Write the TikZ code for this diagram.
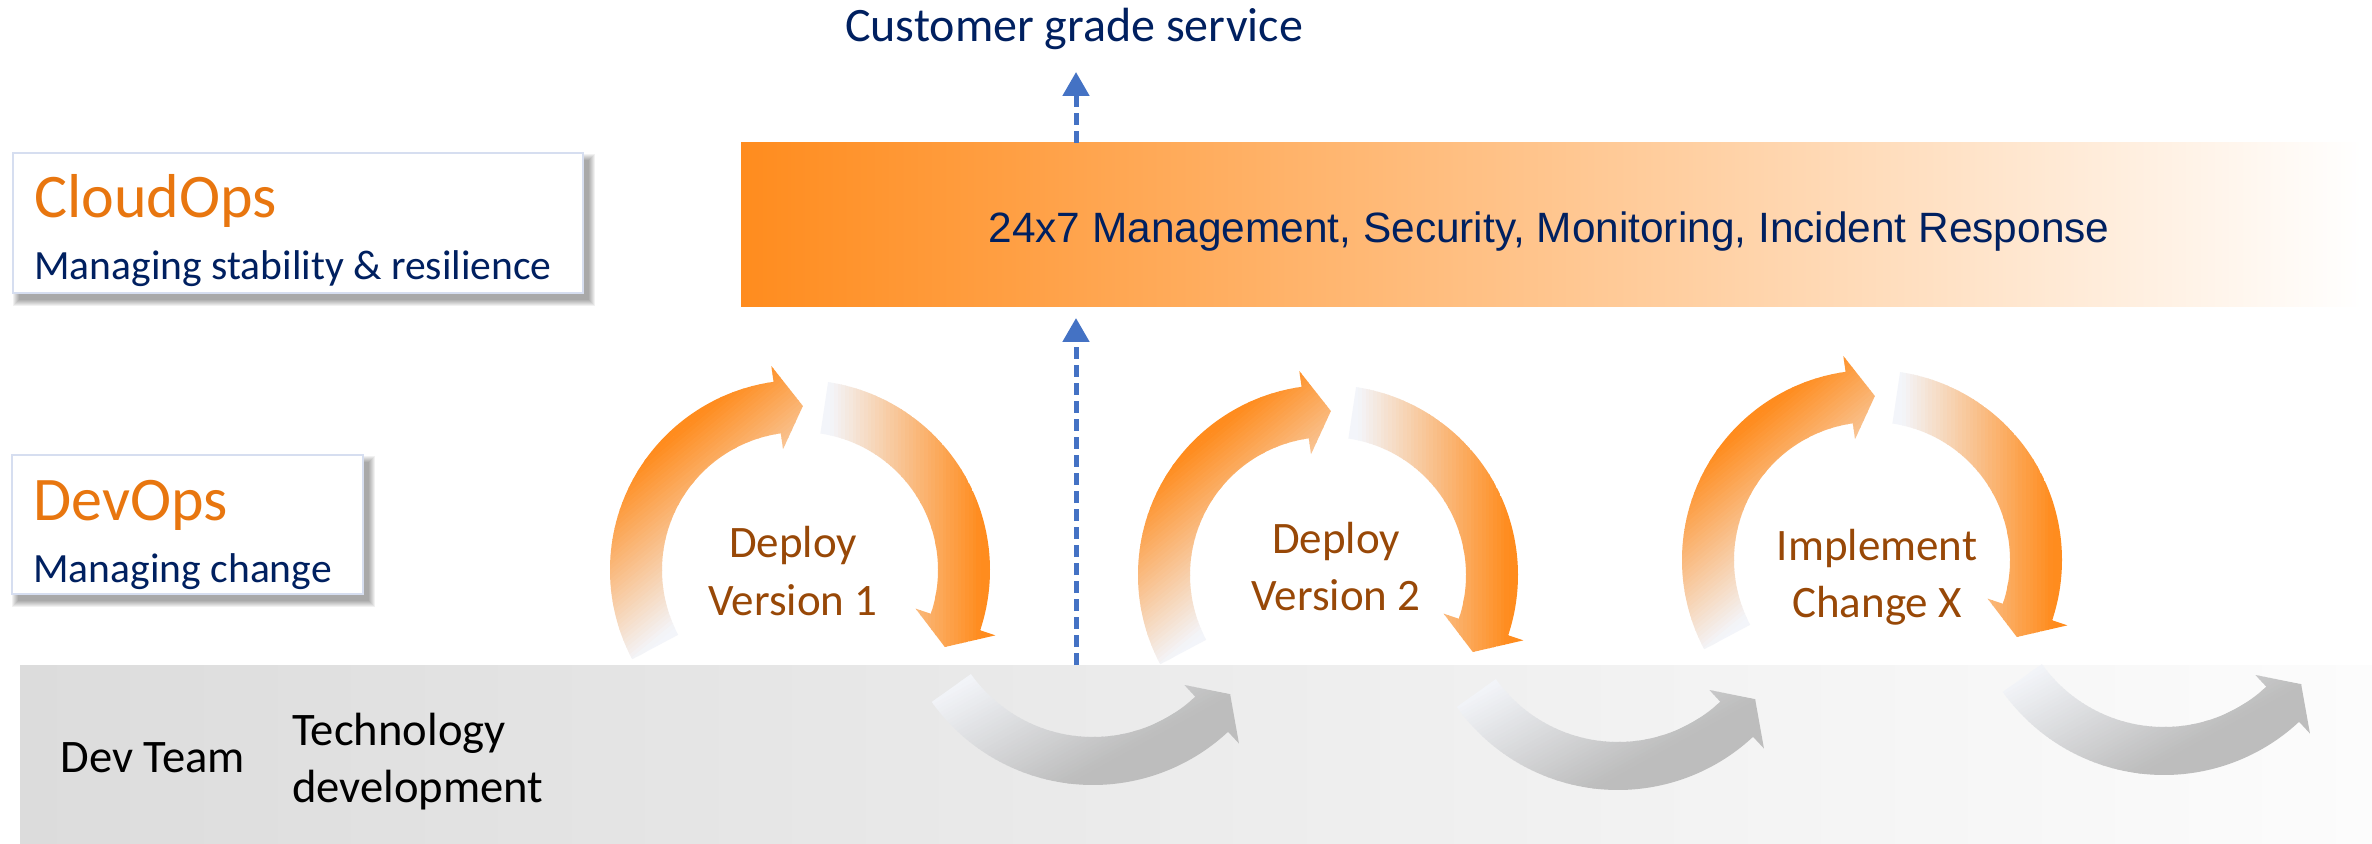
\documentclass[tikz,border=0pt]{standalone}
\usepackage{fontspec}
\setmainfont{Carlito}
\newfontfamily\arialf{Liberation Sans}
\usetikzlibrary{arrows.meta,calc}
\definecolor{orng}{RGB}{255,140,30}
\definecolor{lite}{RGB}{243,245,250}
\definecolor{titleor}{RGB}{232,118,15}
\definecolor{navy}{RGB}{0,32,96}
\definecolor{brn}{RGB}{152,72,7}
\definecolor{dashblue}{RGB}{68,114,196}
\definecolor{gdark}{RGB}{189,189,189}
\definecolor{glite}{RGB}{243,245,249}
\definecolor{bandL}{RGB}{220,220,220}
\definecolor{bandR}{RGB}{252,252,252}
\definecolor{boxborder}{RGB}{214,222,240}

% linear gradient fill of a path: #1 path, (#2,#3) colour #6, (#4,#5) colour #7
\newcommand{\gradclip}[7]{%
 \begin{scope}
 \clip #1;
 \pgfmathsetmacro\gdx{#4-(#2)}
 \pgfmathsetmacro\gdy{#5-(#3)}
 \pgfmathsetmacro\gang{atan2(\gdy,\gdx)}
 \pgfmathsetmacro\glen{veclen(\gdx,\gdy)}
 \begin{scope}[shift={(#2,#3)}, rotate=\gang]
  \fill[#6] (-600,-600) rectangle (0.5,600);
  \fill[#7] (\glen-0.5,-600) rectangle (\glen+600,600);
  \foreach \i in {0,...,39}{
    \pgfmathsetmacro\ga{\i*\glen/40}
    \pgfmathsetmacro\gb{(\i+1)*\glen/40+0.6}
    \pgfmathsetmacro\gp{100-(\i+0.5)*2.5}
    \fill[#6!\gp!#7] (\ga,-600) rectangle (\gb,600);
  }
 \end{scope}
 \end{scope}
}
\newcommand{\topcycle}[2]{%
 \gradclip{[shift={(#1,#2)}] (208:190) arc[start angle=208,end angle=98,radius=190] -- (98:206) -- (89:164) -- (98:122) -- (98:138) arc[start angle=98,end angle=208,radius=138] -- cycle}{#1-131}{#2+130}{#1-37}{#2+16}{orng}{lite}
 \gradclip{[shift={(#1,#2)}] (81.5:190) arc[start angle=81.5,end angle=-18.5,radius=190] -- (-18.5:206) -- (-28:164) -- (-18.5:122) -- (-18.5:138) arc[start angle=-18.5,end angle=81.5,radius=138] -- cycle}{#1+30}{#2}{#1+180}{#2}{lite}{orng}
}
\newcommand{\graycycle}[2]{%
 \gradclip{[shift={(#1,#2)}] (215.5:198) arc[start angle=215.5,end angle=313,radius=198] -- (313:214) -- (322:174) -- (313:134) -- (313:150) arc[start angle=313,end angle=215.5,radius=150] -- cycle}{#1-143}{#2-100}{#1-75}{#2-224}{glite}{gdark}
}
\newcommand{\softshadow}[4]{%
 \foreach \k in {0,...,6}{\fill[black, opacity=0.055] (#1+\k, #2-1-\k) rectangle (#3+12-\k, #4-13+\k);}
}

\tikzset{
 lbox/.style={draw=boxborder, line width=1pt, fill=white},
 titletext/.style={anchor=base west, text=titleor, font=\fontsize{31}{37}\selectfont, inner sep=0},
 subtext/.style={anchor=base west, text=navy, font=\fontsize{20.8}{25}\selectfont, inner sep=0},
 circtext/.style={anchor=base, text=brn, font=\fontsize{22.5}{27}\selectfont, inner sep=0},
 bandtext/.style={anchor=base west, text=black, font=\fontsize{23.3}{28}\selectfont, inner sep=0},
 dasharr/.style={draw=dashblue, line width=2.5pt, dash pattern=on 6pt off 3pt, -{Triangle[width=13pt,length=12pt]}},
}

\begin{document}
\begin{tikzpicture}[x=0.5pt,y=0.5pt]
\useasboundingbox (0,0) rectangle (2372,-844);
\fill[white] (0,0) rectangle (2372,-844);

% grey development band
\node[shade, left color=bandL, right color=bandR, anchor=north west, minimum width=1176pt, minimum height=89.5pt, inner sep=0, outer sep=0] (band) at (20,-665) {};

% grey lower arcs
\graycycle{1093}{-587}
\graycycle{1618}{-592}
\graycycle{2164}{-577}

% orange cycles
\topcycle{800}{-570}
\topcycle{1328}{-575}
\topcycle{1872}{-560}

% CloudOps banner
\node[shade, left color=orng, right color=white, anchor=north west, minimum width=810.5pt, minimum height=82pt, inner sep=0, outer sep=0] (banner) at (741,-143) {};
\node[anchor=base, text=navy, font=\arialf\fontsize{21.2}{25}\selectfont, inner sep=0] (bannertext) at (1549,-243) {24x7 Management, Security, Monitoring, Incident Response};

% customer text and arrows
\node[anchor=base, text=navy, font=\fontsize{24}{29}\selectfont, inner sep=0] (cgs) at (1074,-42) {Customer grade service};
\coordinate (arrTop) at (1076,-72);
\coordinate (arrMid) at (1076,-318);
\draw[dasharr] (banner.north -| arrTop) -- (arrTop);
\draw[dasharr] (band.north -| arrMid) -- (arrMid);

% left label boxes
\softshadow{13}{-153}{583}{-293}
\draw[lbox] (13,-153) rectangle (583,-293);
\node[titletext] (cloudops) at (34,-218) {CloudOps};
\node[subtext] (cloudsub) at (34,-280) {Managing stability \& resilience};

\softshadow{12}{-455}{363}{-594}
\draw[lbox] (12,-455) rectangle (363,-594);
\node[titletext] (devops) at (33,-520) {DevOps};
\node[subtext] (devsub) at (33,-582) {Managing change};

% cycle labels
\node[circtext] (c1a) at (793,-557) {Deploy};
\node[circtext] (c1b) at (793,-615) {Version 1};
\node[circtext] (c2a) at (1336,-553) {Deploy};
\node[circtext] (c2b) at (1336,-610) {Version 2};
\node[circtext] (c3a) at (1877,-560) {Implement};
\node[circtext] (c3b) at (1877,-617) {Change X};

% band labels
\node[bandtext] (devteam) at (60,-772) {Dev Team};
\node[bandtext] (tech1) at (292,-745) {Technology};
\node[bandtext] (tech2) at (292,-802) {development};
\end{tikzpicture}
\end{document}
